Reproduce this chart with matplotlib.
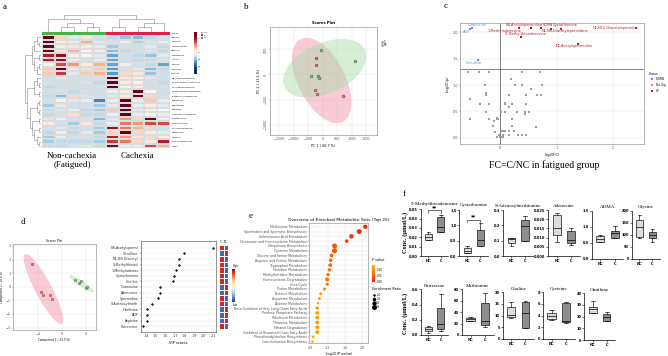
import numpy as np
import matplotlib
matplotlib.use('Agg')
import matplotlib.pyplot as plt
from matplotlib.patches import Ellipse, Rectangle
from matplotlib.colors import LinearSegmentedColormap

# ---------------- panel a : heatmap ----------------
heat_rows = ['Adenine', 'Guanine', 'Hypoxanthine', 'Xanthine', 'Glutathione',
             'Inosine', 'Choline', 'Citrulline', 'Arginine',
             'N8-Acetylspermidine', 'N1,N12-Diacetylspermine', 'N1-Acetylspermidine',
             'N1,N8-Diacetylspermidine', "5'-Methylthioadenosine", 'Putrescine',
             'Spermidine', 'Spermine', 'S-Adenosylmethionine', 'Cystathionine',
             'Homocysteine', 'N1-Acetylspermine', 'Methionine', 'Cysteine',
             '1-Methyladenosine', 'SDMA']
heat_vals = np.array([
    [2.5, 0.5, -0.3, 0.3, -0.5, -0.6, -0.9, -1.0, -0.6, -0.5],
    [2.5, 0.2, -0.2, 0.8, -0.3, -0.5, -0.2, -0.7, -0.4, -0.2],
    [3.0, 0.2, 0.3, 0.2, -0.3, -0.8, -0.5, -0.5, -0.3, -0.6],
    [2.7, 0.3, 0.8, 0.1, -0.2, -1.0, -0.6, -0.5, -0.4, -0.6],
    [1.8, 2.0, 0.1, 0.0, -0.3, -1.2, -0.5, -0.6, -0.9, -0.3],
    [1.8, 2.0, 0.2, -0.5, 0.2, -1.2, -0.5, -0.6, -0.6, -0.4],
    [0.1, 1.5, 1.0, 0.2, 0.8, -1.2, 0.2, -0.5, -0.6, -1.2],
    [0.6, 2.5, 0.3, 0.4, 0.6, -1.3, -0.5, -0.3, -1.0, -0.6],
    [0.6, 1.6, -0.3, 0.6, 0.8, -1.3, 0.5, 0.3, -0.9, -0.5],
    [-0.5, -0.3, -0.5, -0.5, -0.5, 2.8, 0.3, 0.2, -0.3, -0.5],
    [-0.5, -0.5, -0.5, -0.4, -0.6, 3.0, 0.2, 0.1, -0.5, -0.6],
    [-0.6, -0.5, -0.5, -0.5, -0.5, 3.0, 0.1, 0.2, -0.5, -0.5],
    [-0.5, -0.5, -0.6, -0.5, -0.5, -0.2, 0.2, 3.0, 0.0, -0.5],
    [-0.6, -1.0, 0.5, -0.4, -0.5, -0.3, 0.2, 2.5, 0.5, -0.5],
    [-0.5, 0.1, -0.3, -0.2, -1.5, 0.2, 2.6, -0.2, 0.6, -0.2],
    [-0.8, -0.3, -0.5, -0.5, -0.8, -0.3, 2.6, -0.2, 0.2, -0.3],
    [-0.6, -0.4, -0.2, -0.6, -0.8, 0.6, 2.6, -0.3, 0.2, 0.0],
    [-0.6, -0.5, 0.4, -0.6, -0.6, -0.2, 2.8, -0.2, 0.0, -0.2],
    [-0.4, -0.2, -0.5, -0.5, -1.0, -0.3, 1.0, 0.5, 2.4, 0.2],
    [0.2, -0.5, -0.8, 0.3, -0.6, -0.2, 1.2, 1.0, 1.5, 1.5],
    [-0.5, -0.3, -0.6, -0.5, -0.8, 2.0, 1.2, 0.8, 0.5, -0.5],
    [-0.6, -0.2, -0.6, -0.3, -0.8, 0.5, 2.8, 0.5, -0.2, -0.3],
    [-0.8, -0.2, -0.5, -0.5, -0.6, 1.8, 1.0, 0.3, 0.5, 0.2],
    [-0.8, -0.6, -0.6, -0.6, -0.8, 1.6, 1.2, 0.5, 0.2, 1.8],
    [-0.6, -0.6, -0.5, -0.4, -0.6, 2.2, -0.2, -0.2, 1.5, 0.8]])
heat_groups = ['NC'] * 5 + ['C'] * 5
col_tree = [[0, [[1, 2], [3, 4]]], [[5, 6], [[7, 8], 9]]]
row_tree = [[[[0, [1, 2]], 3], [[4, 5], [[6, 7], 8]]],
            [[[9, [10, 11]], [12, 13]],
             [[[14, 15], [16, 17]], [[18, 19], [[20, 21], [22, [23, 24]]]]]]]

# ---------------- panel b : PCA scores ----------------
pca_c_x = [-238, -215, -249, -181, 714]
pca_c_y = [327, 180, -300, -380, -427]
pca_nc_x = [-68, 1100, -397, -159, -113]
pca_nc_y = [480, 260, -27, -27, -67]

# ---------------- panel c : volcano ----------------
up_names = ['1-Methyladenosine', 'N8-Acetylspermidine', 'SDMA', 'N1,N8-Diacetylspermidine',
            'Cystathionine', 'N1,N12-Diacetylspermine', "5'-Methylthioadenosine",
            'N1-Acetylspermidine']
up_fc = [0.34, 0.55, 0.72, 0.90, 1.08, 2.41, 0.37, 1.38]
up_p = [2.08, 2.08, 2.08, 2.07, 2.07, 2.08, 1.92, 1.79]
down_names = ['Guanosine', 'ADP', 'Citrulline']
down_fc = [-0.50, -0.54, -0.39]
down_p = [2.08, 2.07, 1.47]
ns_fc = [-0.57, -0.37, -0.19, 0.38, 0.71, 0.19, -0.27, 0.27, 0.39, 0.75, 0.54, -0.25, -0.25,
         0.15, 0.46, 0.66, 0.72, -0.54, -0.35, -0.19, 0.09, 0.21, 0.46, 0.08, 0.15,
         -0.25, 0.02, 0.08, 0.30, 0.44, 0.51, 0.45, -0.53, -0.20, -0.05, -0.03, 0.21,
         -0.06, -0.10, 0.64, -0.13, 0.21, 0.02, 0.06, 0.09, 0.16, 0.24, -0.09,
         -0.02, 0.06, 0.16, 0.32, 0.39, 0.46, -0.05, -0.01, 0.02, 0.06]
ns_p = [1.24, 1.24, 1.24, 1.24, 1.24, 1.11, 1.01, 1.01, 1.01, 1.01, 0.92, 0.84, 0.81,
        0.81, 0.81, 0.81, 0.81, 0.73, 0.64, 0.64, 0.64, 0.64, 0.64, 0.66, 0.59,
        0.49, 0.49, 0.49, 0.49, 0.49, 0.49, 0.45, 0.35, 0.35, 0.35, 0.35, 0.35,
        0.37, 0.31, 0.21, 0.23, 0.23, 0.13, 0.13, 0.13, 0.13, 0.13, 0.11,
        0.05, 0.05, 0.05, 0.05, 0.05, 0.05, 0.01, 0.01, 0.01, 0.01]
p_cut = 1.3

# ---------------- panel d : PLS-DA + VIP ----------------
pls_c_x = [-5.05, -3.55, -3.22, -1.95, -1.72]
pls_c_y = [1.69, -0.41, -0.59, -0.63, -0.88]
pls_nc_x = [2.17, 2.83, 3.22, 4.05, 4.17]
pls_nc_y = [0.49, 0.29, 0.42, -0.07, -0.04]
vip_names = ['N8-Acetylspermi', 'Citrulline', 'N1,N8-Diacetyl', 'S-Methylthioad',
             '1-Methyladenos', 'Cystathionine', 'Choline', 'Guanosine', 'Adenosine',
             'Spermidine', 'S-Adenosylmeth', 'Ornithine', 'ADP', 'Arginine', 'Putrescine']
vip_scores = [2.10, 1.79, 1.74, 1.74, 1.71, 1.69, 1.68, 1.54, 1.54, 1.52, 1.46, 1.41, 1.41,
              1.41, 1.37]
vip_c = [1, -1, 1, 1, 1, 1, 1, -1, -1, 1, 1, -1, -1, -1, 1]

# ---------------- panel e : enrichment ----------------
set_names = ['Methionine Metabolism', 'Spermidine and Spermine Biosynthesis',
             'Selenoamino Acid Metabolism', 'Glutamate and Homocysteine Metabolism',
             'Ubiquinone Biosynthesis', 'Cysteine Metabolism', 'Glycine and Serine Metabolism',
             'Arginine and Proline Metabolism', 'Tryptophan Metabolism', 'Histidine Metabolism',
             'Methylhistidine Metabolism', 'Homocysteine Degradation', 'Urea Cycle',
             'Purine Metabolism', 'Betaine Metabolism', 'Aspartate Metabolism',
             'Alanine Metabolism', 'Beta Oxidation of Very Long Chain Fatty Acids',
             'Pentose Phosphate Pathway', 'Riboflavin Metabolism', 'Thiamine Metabolism',
             'Ethanol Degradation', 'Oxidation of Branched Chain Fatty Acids',
             'Phosphatidylcholine Biosynthesis', 'Catecholamine Biosynthesis']
set_logp = [2.07, 1.93, 1.75, 1.64, 1.36, 1.36, 1.29, 1.27, 1.26, 1.24, 1.21, 1.19, 1.19,
            1.13, 1.04, 1.01, 0.98, 0.96, 0.96, 0.96, 0.96, 0.96, 0.96, 0.87, 0.85]
set_ratio = [3.0, 3.4, 3.1, 2.5, 3.5, 3.5, 2.6, 2.5, 2.6, 2.4, 2.4, 2.8, 2.3, 2.2, 2.1, 2.1,
             1.9, 2.4, 2.6, 2.6, 2.6, 2.6, 2.6, 2.1, 2.0]
ratio_legend = [2.0, 2.5, 3.0, 3.5]

# ---------------- panel f : box plots ----------------
box_names = ["5'-Methylthioadenosine", 'Cystathionine', 'S-Adenosylmethionine', 'Adenosine',
             'ADMA', 'Glycine', 'Putrescine', 'Methionine', 'Choline', 'Cysteine', 'Ornithine']
# min, q1, median, q3, max
box_nc = [[0.0168, 0.0168, 0.0207, 0.0232, 0.0254], [0.09, 0.11, 0.16, 0.25, 0.33],
          [0.065, 0.083, 0.109, 0.115, 0.115], [0.0078, 0.0114, 0.0154, 0.0223, 0.0232],
          [0.52, 0.54, 0.635, 0.72, 0.75], [86, 90, 132, 162, 183],
          [0.022, 0.052, 0.078, 0.109, 0.122], [23.9, 25.1, 27.4, 29.2, 30.9],
          [8.9, 9.3, 10.3, 13.9, 15.9], [3.26, 3.49, 4.0, 4.4, 4.97],
          [23.4, 23.4, 26.9, 28.6, 33.1]]
box_c = [[0.0261, 0.0261, 0.0314, 0.0414, 0.0443], [0.34, 0.34, 0.52, 0.85, 1.08],
         [0.098, 0.098, 0.196, 0.235, 0.26], [0.006, 0.0072, 0.0087, 0.0136, 0.0154],
         [0.645, 0.645, 0.80, 0.885, 1.03], [69, 86, 100, 114, 124],
         [0.048, 0.078, 0.143, 0.361, 0.543], [14.6, 17.5, 25.1, 55.5, 73.0],
         [4.7, 4.7, 11.0, 16.0, 16.1], [2.8, 2.91, 3.09, 6.11, 6.34],
         [16.0, 16.6, 19.7, 22.6, 24.3]]
box_ymax = [0.05, 1.5, 0.3, 0.025, 1.5, 200, 0.6, 80, 20, 8, 40]
box_ystep = [0.01, 0.5, 0.1, 0.005, 0.5, 50, 0.2, 20, 5, 2, 10]
box_sig = ['**', '**', '', '', '', '', '', '', '', '', '']

# ====================================================
W, H = 668, 356
fig = plt.figure(figsize=(W / 100, H / 100), dpi=100)
SERIF = 'Liberation Serif'


def add_px(x0, y0, x1, y1):
    return fig.add_axes([x0 / W, 1 - y1 / H, (x1 - x0) / W, (y1 - y0) / H])


over = fig.add_axes([0, 0, 1, 1], zorder=-5)
over.set_xlim(0, W)
over.set_ylim(H, 0)
over.axis('off')

for lab, (lx, ly) in zip('abcdef', [(5, 7), (246, 7), (446, 6), (23, 222), (251, 216), (404, 194)]):
    over.text(lx, ly, lab, fontsize=6.5, family=SERIF, va='center', ha='center')


def dendro(ax, node, horizontal=False):
    if isinstance(node, int):
        return node + 0.5, 0
    p1, h1 = dendro(ax, node[0], horizontal)
    p2, h2 = dendro(ax, node[1], horizontal)
    h = max(h1, h2) + 1
    xs, ys = [p1, p1, p2, p2], [h1, h, h, h2]
    if horizontal:
        ax.plot(ys, xs, color='#8a8a8a', lw=0.4)
    else:
        ax.plot(xs, ys, color='#8a8a8a', lw=0.4)
    return (p1 + p2) / 2, h


def conf_ellipse(ax, x, y, color, k=2.4477):
    cov = np.cov(x, y)
    vals, vecs = np.linalg.eigh(cov)
    order = vals.argsort()[::-1]
    vals, vecs = vals[order], vecs[:, order]
    angle = np.degrees(np.arctan2(vecs[1, 0], vecs[0, 0]))
    ax.add_patch(Ellipse((np.mean(x), np.mean(y)), 2 * k * np.sqrt(vals[0]),
                         2 * k * np.sqrt(vals[1]), angle=angle, facecolor=color,
                         alpha=0.45, edgecolor='none', zorder=1))


def light_box(ax):
    ax.grid(True, color='#e4e4e4', lw=0.35)
    ax.set_axisbelow(True)
    for s in ax.spines.values():
        s.set_color('#9a9a9a')
        s.set_linewidth(0.5)
    ax.tick_params(labelsize=2.4, length=1, width=0.3, pad=0.6, colors='#555555')


# ---------- a ----------
nrow, ncol = heat_vals.shape
axh = add_px(41.7, 35, 170, 148.3)
axh.pcolormesh(heat_vals, cmap='RdBu_r', vmin=-2.3, vmax=2.3, edgecolors='#dcdcdc',
               linewidth=0.15)
axh.set_xlim(0, ncol)
axh.set_ylim(nrow, 0)
axh.set_xticks([])
axh.set_yticks(np.arange(nrow) + 0.5)
axh.set_yticklabels(heat_rows, fontsize=1.6)
axh.yaxis.tick_right()
axh.tick_params(length=0, pad=1)
for s in axh.spines.values():
    s.set_visible(False)

axg = add_px(41.7, 31.7, 170, 34.5)
gcol = {'NC': '#4cb04c', 'C': '#e0204c'}
for i, g in enumerate(heat_groups):
    axg.add_patch(Rectangle((i, 0), 1, 1, color=gcol[g], lw=0))
axg.set_xlim(0, ncol)
axg.set_ylim(0, 1)
axg.axis('off')
over.text(172, 33, 'Status', fontsize=1.6, va='center')

axcd = add_px(41.7, 15, 170, 31.5)
_, top = dendro(axcd, col_tree)
axcd.set_xlim(0, ncol)
axcd.set_ylim(0, top + 0.05)
axcd.axis('off')

axrd = add_px(25, 35, 41.2, 148.3)
_, top = dendro(axrd, row_tree, horizontal=True)
axrd.set_ylim(nrow, 0)
axrd.set_xlim(top + 0.05, 0)
axrd.axis('off')

axcb = add_px(194.3, 31.7, 196.8, 74)
axcb.imshow(np.linspace(3, -3, 100)[:, None], cmap='RdBu_r', vmin=-2.3, vmax=2.3, aspect='auto',
            extent=[0, 1, -3, 3])
axcb.set_xticks([])
axcb.yaxis.tick_right()
axcb.set_yticks([-2, -1, 0, 1, 2])
axcb.tick_params(labelsize=1.6, length=0.5, width=0.2, pad=0.5)
for s in axcb.spines.values():
    s.set_visible(False)
over.text(200.5, 32.5, 'Status', fontsize=1.5, va='center')
for j, g in enumerate(['C', 'NC']):
    over.add_patch(Rectangle((200.5, 34 + j * 2.6), 2.5, 2.2, color=gcol[g], lw=0))
    over.text(203.6, 35.1 + j * 2.6, g, fontsize=1.5, va='center')

over.text(72, 160.5, 'Non-cachexia\n(Fatigued)', fontsize=6.5, family=SERIF, ha='center',
          va='center', linespacing=1.15)
over.text(137.5, 155.7, 'Cachexia', fontsize=6.5, family=SERIF, ha='center', va='center')

# ---------- b ----------
axb = add_px(270, 27, 377, 135)
light_box(axb)
conf_ellipse(axb, pca_c_x, pca_c_y, '#f08ca4')
conf_ellipse(axb, pca_nc_x, pca_nc_y, '#a6d9a6')
axb.scatter(pca_c_x, pca_c_y, s=4, c='#e8708a', edgecolors='#6a3030', linewidths=0.35, zorder=3)
axb.scatter(pca_nc_x, pca_nc_y, s=4, c='#7cc47c', edgecolors='#2f5f2f', linewidths=0.35, zorder=3)
axb.set_xlim(-1816, 1874)
axb.set_ylim(-1206, 946)
axb.set_xticks(np.arange(-1500, 1501, 500))
axb.set_yticks(np.arange(-1000, 501, 500))
for t in axb.get_yticklabels():
    t.set_rotation(90)
    t.set_va('center')
axb.set_title('Scores Plot', fontsize=2.6, fontweight='bold', pad=2)
axb.set_xlabel('PC 1 ( 60.7 %)', fontsize=2.4, labelpad=2)
axb.set_ylabel('PC 2 ( 11.5 %)', fontsize=2.4, labelpad=2)
for j, (g, c) in enumerate([('C', '#e8708a'), ('NC', '#7cc47c')]):
    over.scatter([382], [42 + j * 2.6], s=2, c=c, edgecolors='#555555', linewidths=0.2)
    over.text(384, 42 + j * 2.6, g, fontsize=1.8, va='center')

# ---------- c ----------
axc = add_px(460, 23, 644, 144)
light_box(axc)
axc.scatter(ns_fc, ns_p, s=1.2, c='#9e9e9e', marker='s', linewidths=0, zorder=3)
axc.scatter(up_fc, up_p, s=2.2, c='#b81c24', marker='s', linewidths=0, zorder=3)
axc.scatter(down_fc, down_p, s=2.2, c='#5b8fe0', marker='s', linewidths=0, zorder=3)
axc.axhline(p_cut, color='#555555', lw=0.5, zorder=2)
axc.axvline(0, color='#555555', lw=0.5, zorder=2)
label_offsets = {'1-Methyladenosine': (-15, -3), 'N8-Acetylspermidine': (-7, 3.5),
                 'SDMA': (7, 3.5), 'N1,N8-Diacetylspermidine': (14, -2),
                 'Cystathionine': (4, 3.8), 'N1,N12-Diacetylspermine': (-21, 0),
                 "5'-Methylthioadenosine": (5, 2.5), 'N1-Acetylspermidine': (-4, -2.8),
                 'Guanosine': (5, 3), 'ADP': (-3, -3), 'Citrulline': (-4, -2.5)}
for names, xs, ys, col in [(up_names, up_fc, up_p, '#b81c24'),
                           (down_names, down_fc, down_p, '#5b8fe0')]:
    for n, xv, yv in zip(names, xs, ys):
        axc.annotate(n, (xv, yv), xytext=label_offsets[n], textcoords='offset pixels',
                     fontsize=2.5, color=col, ha='center', va='center')
axc.set_xlim(-0.71, 2.55)
axc.set_ylim(-0.12, 2.18)
axc.set_xticks([0, 1, 2])
axc.set_yticks([0.0, 0.5, 1.0, 1.5, 2.0])
axc.set_xlabel('log2(FC)', fontsize=2.6, labelpad=2)
axc.set_ylabel('-log10(p)', fontsize=2.6, labelpad=2)
over.text(649, 74, 'Status', fontsize=2.2, va='center')
for j, (g, c) in enumerate([('DOWN', '#5b8fe0'), ('Non-Sig', '#9e9e9e'), ('UP', '#b81c24')]):
    over.scatter([652], [79.3 + j * 5.9], s=1.5, c=c, marker='s', linewidths=0)
    over.text(655.5, 79.3 + j * 5.9, g, fontsize=2.0, va='center')
over.text(544, 165, 'FC=C/NC in fatigued group', fontsize=7, family=SERIF, ha='center',
          va='center')

# ---------- d ----------
axd = add_px(13, 244, 96, 330)
light_box(axd)
conf_ellipse(axd, pls_c_x, pls_c_y, '#f08ca4')
conf_ellipse(axd, pls_nc_x, pls_nc_y, '#a6d9a6')
axd.scatter(pls_c_x, pls_c_y, s=3, c='#e8708a', edgecolors='#6a3030', linewidths=0.3, zorder=3)
axd.scatter(pls_nc_x, pls_nc_y, s=3, c='#7cc47c', edgecolors='#2f5f2f', linewidths=0.3, zorder=3)
axd.set_xlim(-8.17, 5.67)
axd.set_ylim(-3.18, 3.14)
axd.set_xticks([-4, 0, 4])
axd.set_yticks(np.arange(-3, 4, 1))
axd.set_title('Scores Plot', fontsize=2.2, pad=1.5)
axd.set_xlabel('Component 1 ( 33.5 %)', fontsize=2.0, labelpad=1.5)
axd.set_ylabel('Component 2 ( 14.6 %)', fontsize=2.0, labelpad=1.5)
over.add_patch(Rectangle((89, 245.5), 6.5, 5.5, facecolor='white', edgecolor='#aaaaaa', lw=0.25,
                         zorder=5))
for j, (g, c) in enumerate([('C', '#e8708a'), ('NC', '#7cc47c')]):
    over.scatter([90.3], [247 + j * 2.4], s=0.8, c=c, zorder=6, linewidths=0)
    over.text(91.5, 247 + j * 2.4, g, fontsize=1.4, va='center', zorder=6)

axv = add_px(141, 241, 216, 331.7)
for s in axv.spines.values():
    s.set_color('#666666')
    s.set_linewidth(0.5)
nv = len(vip_names)
rows_v = np.arange(nv)
for r in rows_v:
    axv.axhline(r, color='#c8c8c8', lw=0.35, ls=':', zorder=1)
axv.scatter(vip_scores, rows_v, s=2.5, c='#222222', marker='D', linewidths=0, zorder=3)
axv.set_xlim(1.348, 2.126)
axv.set_ylim(15.0, -1.2)
axv.set_yticks(rows_v)
axv.set_yticklabels(vip_names, fontsize=2.2)
axv.set_xticks(np.round(np.arange(1.4, 2.11, 0.1), 1))
axv.tick_params(labelsize=2.4, length=1, width=0.3, pad=0.8, colors='#333333')
axv.set_xlabel('VIP scores', fontsize=2.6, labelpad=2)

axs = add_px(219, 244.9, 228, 328.8)
strip = np.array([[v, -v] for v in vip_c])
axs.pcolormesh(strip, cmap='RdYlBu_r', vmin=-1.2, vmax=1.2, edgecolors='white', linewidth=0.4)
axs.set_ylim(nv, 0)
axs.axis('off')
over.text(221.2, 242, 'C', fontsize=2.0, ha='center', va='center')
over.text(225.8, 242, 'NC', fontsize=2.0, ha='center', va='center')
axhl = add_px(231.5, 269, 234, 302)
axhl.imshow(np.linspace(1, -1, 100)[:, None], cmap='RdYlBu_r', aspect='auto')
axhl.axis('off')
over.text(232.7, 266.5, 'High', fontsize=1.8, ha='left', va='center')
over.text(232.7, 304.5, 'Low', fontsize=1.8, ha='left', va='center')

# ---------- e ----------
axe = add_px(309.3, 222.7, 368.3, 343.3)
light_box(axe)
pv_cmap = LinearSegmentedColormap.from_list('pv', ['#ff1a00', '#ff7a00', '#ffae00'])
pvals = 10 ** (-np.array(set_logp))
sizes = 2 + (np.array(set_ratio) - 1.8) * 6.5
rows_e = np.arange(len(set_names))
sc = axe.scatter(set_logp, rows_e, s=sizes, c=pvals, cmap=pv_cmap, vmin=0, vmax=0.14,
                 linewidths=0, zorder=3)
axe.set_ylim(24.35, -0.85)
axe.set_xlim(0.777, 2.14)
axe.set_yticks(rows_e)
axe.set_yticklabels(set_names, fontsize=2.3)
axe.set_xticks([0.8, 1.2, 1.6, 2.0])
axe.set_xlabel('-log10(P value)', fontsize=2.6, labelpad=2)
over.text(339, 220.5, 'Overview of Enriched Metabolite Sets (Top 25)', fontsize=3.2,
          ha='center', va='center')
axpc = add_px(372.3, 265, 375.3, 281.7)
axpc.imshow(np.linspace(0.14, 0, 100)[:, None], cmap=pv_cmap, vmin=0, vmax=0.14, aspect='auto',
            extent=[0, 1, 0, 0.14])
axpc.set_xticks([])
axpc.yaxis.tick_right()
axpc.set_yticks([0.0, 0.05, 0.10])
axpc.set_yticklabels(['0.00', '0.05', '0.10'])
axpc.tick_params(labelsize=2.0, length=0.6, width=0.2, pad=0.5)
for s in axpc.spines.values():
    s.set_visible(False)
over.text(372, 260, 'P value', fontsize=2.4, va='center')
over.text(372, 289.5, 'Enrichment Ratio', fontsize=2.4, va='center')
for j, rv in enumerate(ratio_legend):
    over.scatter([373.8], [295 + j * 3.9], s=2 + (rv - 1.8) * 6.5, c='black', linewidths=0)
    over.text(376.3, 295 + j * 3.9, '%.1f' % rv, fontsize=2.0, va='center')

# ---------- f ----------
box_layout = [(421, 209.3, 448.3, 256), (459.3, 210, 488.3, 256), (503.3, 210, 533, 256),
              (548.3, 210, 580, 256), (591.7, 211, 623.3, 259), (631.7, 211, 660, 259),
              (421, 289.3, 448.3, 335), (461.7, 289.3, 494, 335), (502.7, 292.3, 534, 339),
              (542.7, 292.3, 575, 339), (584.3, 293.3, 615, 340)]
for k, name in enumerate(box_names):
    x0, y0, x1, y1 = box_layout[k]
    ax = add_px(x0, y0, x1, y1)
    stats = []
    for vals, lab in [(box_nc[k], 'NC'), (box_c[k], 'C')]:
        stats.append(dict(whislo=vals[0], q1=vals[1], med=vals[2], q3=vals[3],
                          whishi=vals[4], label=lab))
    bp = ax.bxp(stats, positions=[1, 2], widths=0.55, patch_artist=True, showfliers=False,
                boxprops=dict(linewidth=0.45), whiskerprops=dict(linewidth=0.45),
                capprops=dict(linewidth=0.45), medianprops=dict(color='black', linewidth=0.5))
    for patch, fc in zip(bp['boxes'], ['#dcdcdc', '#8e8e8e']):
        patch.set_facecolor(fc)
    ax.set_xlim(0.4, 2.6)
    ax.set_ylim(0, box_ymax[k])
    ax.set_yticks(np.linspace(0, box_ymax[k], int(round(box_ymax[k] / box_ystep[k])) + 1))
    ax.yaxis.set_major_formatter(matplotlib.ticker.FormatStrFormatter(
        '%.3f' if box_ystep[k] < 0.01 else ('%.2f' if box_ystep[k] < 0.1 else
                                           ('%.1f' if box_ystep[k] < 1 else '%d'))))
    for s in ['top', 'right']:
        ax.spines[s].set_visible(False)
    for s in ['left', 'bottom']:
        ax.spines[s].set_linewidth(0.5)
    ax.tick_params(labelsize=2.6, length=1.2, width=0.4, pad=0.8)
    for t in ax.get_xticklabels() + ax.get_yticklabels():
        t.set_fontweight('bold')
    ax.set_title(name, fontsize=3.6, family=SERIF, pad=3.2 if box_sig[k] else 2)
    if box_sig[k]:
        top = max(box_nc[k][4], box_c[k][4]) * 1.1
        leg = box_ymax[k] * 0.06
        ax.plot([1, 1, 2, 2], [top - leg, top, top, top - leg], color='black', lw=0.4,
                clip_on=False)
        ax.text(1.5, top, box_sig[k], fontsize=3.6, ha='center', va='bottom',
                fontweight='bold', clip_on=False)

over.text(405, 232, 'Conc. (\u03bcmol/L)', fontsize=4.5, family=SERIF, fontweight='bold',
          rotation=90, ha='center', va='center')
over.text(405, 313, 'Conc. (\u03bcmol/L)', fontsize=4.5, family=SERIF, fontweight='bold',
          rotation=90, ha='center', va='center')

fig.savefig('out.png', dpi=100)
